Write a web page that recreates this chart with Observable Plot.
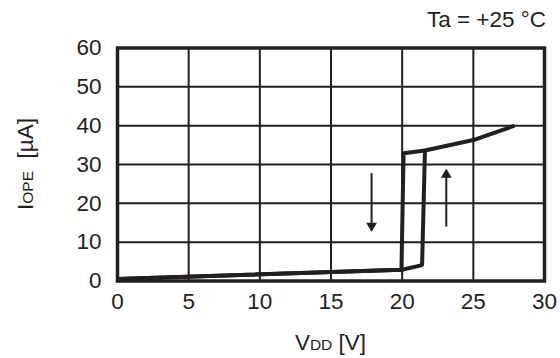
<!DOCTYPE html>
<html>
<head>
<meta charset="utf-8">
<script src="https://cdn.jsdelivr.net/npm/d3@7"></script>
<script src="https://cdn.jsdelivr.net/npm/@observablehq/plot@0.6"></script>
<style>
  html, body { margin: 0; padding: 0; background: #fff; }
  #chart svg { display: block; }
</style>
</head>
<body>
<div id="chart"></div>
<script>
// Operating current vs. supply voltage (hysteresis loop)
const xTicks = [0, 5, 10, 15, 20, 25, 30];
const yTicks = [0, 10, 20, 30, 40, 50, 60];

// Rising sweep: current stays low until the switch-on threshold, then jumps
const riseV = [0, 20.0, 21.4, 21.6, 25.0, 27.9];
const riseI = [0.5, 2.9, 4.1, 33.6, 36.3, 40.0];

// Falling sweep: current stays high until the switch-off threshold, then drops
const fallV = [21.6, 20.1, 19.95, 0];
const fallI = [33.6, 32.9, 2.9, 0.5];

// Direction arrows (x, tail, tip)
const arrowV = [17.85, 23.1];
const arrowTail = [27.8, 14.0];
const arrowTip = [14.2, 27.4];

const ink = "#231f20";

const curve = [
  ...riseV.map((v, i) => ({ v, i: riseI[i], sweep: "rise" })),
  ...fallV.map((v, i) => ({ v, i: fallI[i], sweep: "fall" }))
];
const arrows = arrowV.map((v, k) => ({ v, tail: arrowTail[k], tip: arrowTip[k], up: arrowTip[k] > arrowTail[k] }));

const fs = 22.5;
const fsSub = 15.5;
const chart = Plot.plot({
  width: 560,
  height: 358,
  marginLeft: 117,
  marginRight: 16,
  marginTop: 47.5,
  marginBottom: 77.5,
  style: { fontFamily: "'Liberation Sans', Arial, sans-serif", fontSize: fs + "px", color: ink, background: "#fff" },
  x: { domain: [0, 30], ticks: xTicks, label: null },
  y: { domain: [0, 60], ticks: yTicks, label: null },
  marks: [
    Plot.gridX(xTicks, { stroke: ink, strokeOpacity: 1, strokeWidth: 2 }),
    Plot.gridY(yTicks, { stroke: ink, strokeOpacity: 1, strokeWidth: 2 }),
    Plot.axisX(xTicks, { tickSize: 0, tickPadding: 12, fontSize: fs, fill: ink }),
    Plot.axisY(yTicks, { tickSize: 0, tickPadding: 16, fontSize: fs, fill: ink }),
    Plot.line(curve, { x: "v", y: "i", z: "sweep", stroke: ink, strokeWidth: 4, strokeLinejoin: "miter", strokeLinecap: "butt" }),
    Plot.link(arrows, { x1: "v", x2: "v", y1: "tail", y2: "tip", stroke: ink, strokeWidth: 2 }),
    Plot.dot(arrows, { x: "v", y: "tip", symbol: "triangle", r: 4, fill: ink, stroke: null,
      rotate: d => d.up ? 0 : 180 }),
    Plot.frame({ stroke: ink, strokeWidth: 3.5 })
  ]
});
document.getElementById("chart").appendChild(chart);

const svg = d3.select(chart);
const font = "'Liberation Sans', Arial, sans-serif";

// Condition note
svg.append("text")
  .attr("x", 546).attr("y", 27)
  .attr("text-anchor", "end")
  .attr("font-family", font).attr("font-size", fs).attr("fill", ink)
  .text("Ta = +25 °C");

// x-axis title: V_DD [V]
const xt = svg.append("text")
  .attr("x", 330.5).attr("y", 350)
  .attr("text-anchor", "middle")
  .attr("font-family", font).attr("font-size", fs).attr("fill", ink);
xt.append("tspan").text("V");
xt.append("tspan").attr("font-size", fsSub).text("DD");
xt.append("tspan").text(" [V]");

// y-axis title: I_OPE [µA]
const yt = svg.append("text")
  .attr("transform", "translate(33,164) rotate(-90)")
  .attr("text-anchor", "middle")
  .attr("font-family", font).attr("font-size", fs).attr("fill", ink);
yt.append("tspan").text("I");
yt.append("tspan").attr("font-size", fsSub).text("OPE");
yt.append("tspan").text("  [µA]");
</script>
</body>
</html>
